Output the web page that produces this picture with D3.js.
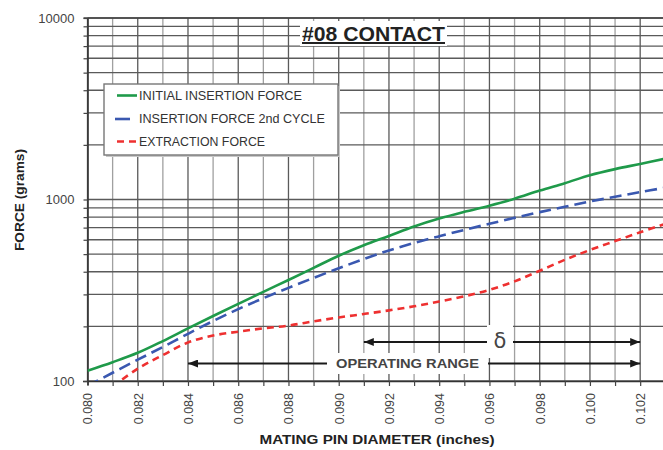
<!DOCTYPE html>
<html>
<head>
<meta charset="utf-8">
<script src="https://cdn.jsdelivr.net/npm/d3@7"></script>
<style>
  html, body { margin: 0; padding: 0; background: #fff; }
  svg { display: block; font-family: "Liberation Sans", Arial, Helvetica, sans-serif; }
</style>
</head>
<body>
<svg id="chart" width="663" height="450"></svg>
<script>
// Mating pin diameter (inches), one sample every 0.001"
const diameters = [0.080, 0.081, 0.082, 0.083, 0.084, 0.085, 0.086, 0.087, 0.088, 0.089,
                   0.090, 0.091, 0.092, 0.093, 0.094, 0.095, 0.096, 0.097, 0.098, 0.099,
                   0.100, 0.101, 0.102, 0.103];
// Force in grams for each diameter
const initialInsertion = [114, 127, 143, 166, 195, 228, 266, 310, 360, 420,
                          490, 560, 630, 710, 785, 855, 925, 1010, 1120, 1230,
                          1360, 1470, 1570, 1680];
const secondInsertion  = [94, 111, 131, 154, 182, 214, 249, 286, 326, 370,
                          418, 470, 524, 576, 627, 680, 735, 792, 852, 912,
                          975, 1035, 1098, 1162];
const extraction       = [null, 93, 117, 139, 163, 178, 187, 195, 202, 213,
                          224, 234, 245, 258, 274, 293, 318, 354, 405, 465,
                          527, 590, 660, 735];

const seriesNames  = ["INITIAL INSERTION FORCE", "INSERTION FORCE 2nd CYCLE", "EXTRACTION FORCE"];
const seriesColors = ["#1f9a4a", "#3a58b0", "#ee3030"];
const seriesDashes = [null, "12,6", "7,5"];
const seriesValues = [initialInsertion, secondInsertion, extraction];

const xTickValues = diameters;
const xLabelValues = [0.080, 0.082, 0.084, 0.086, 0.088, 0.090, 0.092, 0.094, 0.096, 0.098, 0.100, 0.102];
const yLabelValues = [100, 1000, 10000];

// Operating range and delta spans (inches)
const operatingRange = [0.084, 0.102];
const deltaRange = [0.091, 0.102];

const svg = d3.select("#chart");
const W = 663, H = 450;
const plotLeft = 87.5, plotTop = 18, plotBottom = 381;

const x = d3.scaleLinear().domain([0.080, 0.103]).range([plotLeft, 665.3]);
const y = d3.scaleLog().domain([100, 10000]).range([plotBottom, plotTop]);

// y gridline values: 1..9 per decade
const yGrid = [];
[100, 1000].forEach(dec => { for (let k = 1; k <= 9; k++) yGrid.push(k * dec); });
yGrid.push(10000);

const isMajorX = d => Math.round(d * 1000) % 2 === 0;

// ---- grid ----
const grid = svg.append("g");
grid.selectAll("line.v").data(xTickValues).join("line")
  .attr("x1", d => x(d)).attr("x2", d => x(d))
  .attr("y1", plotTop).attr("y2", plotBottom)
  .attr("stroke", d => isMajorX(d) ? "#5a5a5a" : "#a0a0a0")
  .attr("stroke-width", 1.3);
grid.selectAll("line.h").data(yGrid).join("line")
  .attr("x1", plotLeft).attr("x2", W)
  .attr("y1", d => y(d)).attr("y2", d => y(d))
  .attr("stroke", "#5a5a5a")
  .attr("stroke-width", 1.3);

// ---- axes ----
const xAxis = d3.axisBottom(x)
  .tickValues(xTickValues)
  .tickSize(5)
  .tickFormat(d => xLabelValues.some(v => Math.abs(v - d) < 1e-9) ? d3.format(".3f")(d) : "");
const gx = svg.append("g").attr("transform", `translate(0,${plotBottom})`).call(xAxis);
gx.select(".domain").attr("stroke", "#333").attr("stroke-width", 1.5).attr("d", `M83,0.5H${W}`);
gx.selectAll(".tick line").attr("stroke", "#444").attr("stroke-width", 1.2);
gx.selectAll(".tick text")
  .attr("transform", "rotate(-90)")
  .attr("x", -12).attr("y", 0).attr("dy", "0.35em")
  .style("text-anchor", "end")
  .attr("font-size", 12.5)
  .attr("fill", "#444")
  .attr("font-family", "Liberation Sans, Arial, sans-serif");

const yAxis = d3.axisLeft(y)
  .tickValues(yGrid)
  .tickSize(4)
  .tickPadding(9)
  .tickFormat(d => yLabelValues.includes(d) ? String(d) : "");
const gy = svg.append("g").attr("transform", `translate(${plotLeft},0)`).call(yAxis);
gy.select(".domain").attr("stroke", "#333").attr("stroke-width", 1.6).attr("d", `M0.5,${plotTop}V${plotBottom + 4}`);
gy.selectAll(".tick line").attr("stroke", "#444").attr("stroke-width", 1.2);
gy.selectAll(".tick text")
  .attr("font-size", 13)
  .attr("fill", "#444")
  .attr("font-family", "Liberation Sans, Arial, sans-serif");

// top frame line
svg.append("line").attr("x1", plotLeft - 4).attr("x2", W)
  .attr("y1", y(10000)).attr("y2", y(10000))
  .attr("stroke", "#444").attr("stroke-width", 1.6);

// ---- curves ----
svg.append("clipPath").attr("id", "plotClip")
  .append("rect").attr("x", plotLeft).attr("y", plotTop).attr("width", W - plotLeft).attr("height", plotBottom - plotTop);

const line = d3.line()
  .defined(d => d[1] != null)
  .x(d => x(d[0])).y(d => y(d[1]))
  .curve(d3.curveCatmullRom.alpha(0.5));

const curves = svg.append("g").attr("clip-path", "url(#plotClip)");
seriesValues.forEach((vals, i) => {
  curves.append("path")
    .datum(diameters.map((d, j) => [d, vals[j]]))
    .attr("d", line)
    .attr("fill", "none")
    .attr("stroke", seriesColors[i])
    .attr("stroke-width", 2.6)
    .attr("stroke-dasharray", seriesDashes[i]);
});

// ---- title ----
svg.append("rect").attr("x", 300).attr("y", 21).attr("width", 147).attr("height", 25).attr("fill", "#fff");
svg.append("text")
  .attr("x", 373.5).attr("y", 41)
  .attr("text-anchor", "middle")
  .attr("font-size", 20).attr("font-weight", "bold")
  .attr("fill", "#222")
  .attr("text-decoration", "underline")
  .attr("textLength", 143).attr("lengthAdjust", "spacingAndGlyphs")
  .text("#08 CONTACT");

// ---- legend ----
const lg = svg.append("g");
lg.append("rect").attr("x", 106).attr("y", 86).attr("width", 234).attr("height", 71).attr("fill", "#c8c8c8");
lg.append("rect").attr("x", 104).attr("y", 84).attr("width", 234).attr("height", 71)
  .attr("fill", "#fff").attr("stroke", "#777").attr("stroke-width", 1.4);
const legendWidths = [163, 186, 126];
const legendY = [95.5, 119, 141.5];
const legendDash = [null, "15,30", "7,5"];
seriesNames.forEach((name, i) => {
  lg.append("line")
    .attr("x1", i === 1 ? 115 : 117).attr("x2", 137)
    .attr("y1", legendY[i]).attr("y2", legendY[i])
    .attr("stroke", seriesColors[i]).attr("stroke-width", 2.6)
    .attr("stroke-dasharray", legendDash[i]);
  lg.append("text")
    .attr("x", 139).attr("y", legendY[i]).attr("dy", "0.36em")
    .attr("font-size", 12).attr("fill", "#333")
    .attr("textLength", legendWidths[i]).attr("lengthAdjust", "spacingAndGlyphs")
    .text(name);
});

// ---- range arrows ----
const defs = svg.append("defs");
["start", "end"].forEach(k => {
  defs.append("marker")
    .attr("id", "arrow-" + k)
    .attr("viewBox", "0 0 10 8")
    .attr("refX", k === "end" ? 10 : 0).attr("refY", 4)
    .attr("markerWidth", 10).attr("markerHeight", 8)
    .attr("markerUnits", "userSpaceOnUse")
    .attr("orient", "auto")
    .append("path")
    .attr("d", k === "end" ? "M0,0L10,4L0,8Z" : "M10,0L0,4L10,8Z")
    .attr("fill", "#1a1a1a");
});

function rangeArrow(span, yPos, gap, label, opts) {
  const g = svg.append("g");
  g.append("rect").attr("x", gap[0]).attr("y", opts.boxY).attr("width", gap[1] - gap[0])
    .attr("height", opts.boxH).attr("fill", "#fff");
  g.append("line").attr("x1", x(span[0])).attr("x2", gap[0]).attr("y1", yPos).attr("y2", yPos)
    .attr("stroke", "#1a1a1a").attr("stroke-width", 2).attr("marker-start", "url(#arrow-start)");
  g.append("line").attr("x1", gap[1]).attr("x2", x(span[1])).attr("y1", yPos).attr("y2", yPos)
    .attr("stroke", "#1a1a1a").attr("stroke-width", 2).attr("marker-end", "url(#arrow-end)");
  g.append("text").attr("x", (gap[0] + gap[1]) / 2).attr("y", yPos).attr("dy", opts.dy)
    .attr("text-anchor", "middle")
    .attr("font-size", opts.size).attr("font-weight", opts.weight).attr("fill", "#444")
    .attr("font-family", opts.family)
    .attr("textLength", opts.len || null).attr("lengthAdjust", "spacingAndGlyphs")
    .text(label);
}
rangeArrow(deltaRange, 342, [487, 513], "δ",
  { boxY: 325, boxH: 33, dy: "0.3em", size: 21, weight: "normal", family: "DejaVu Sans, sans-serif" });
rangeArrow(operatingRange, 363.5, [327, 488], "OPERATING RANGE",
  { boxY: 353, boxH: 21, dy: "0.36em", size: 13, weight: "bold", family: "Liberation Sans, Arial, sans-serif", len: 143 });

// ---- axis titles ----
svg.append("text")
  .attr("transform", "translate(24,200) rotate(-90)")
  .attr("text-anchor", "middle")
  .attr("font-size", 13.5).attr("font-weight", "bold").attr("fill", "#222")
  .attr("textLength", 102).attr("lengthAdjust", "spacingAndGlyphs")
  .text("FORCE (grams)");
svg.append("text")
  .attr("x", 377).attr("y", 444)
  .attr("text-anchor", "middle")
  .attr("font-size", 13).attr("font-weight", "bold").attr("fill", "#222")
  .attr("textLength", 235).attr("lengthAdjust", "spacingAndGlyphs")
  .text("MATING PIN DIAMETER (inches)");
</script>
</body>
</html>
